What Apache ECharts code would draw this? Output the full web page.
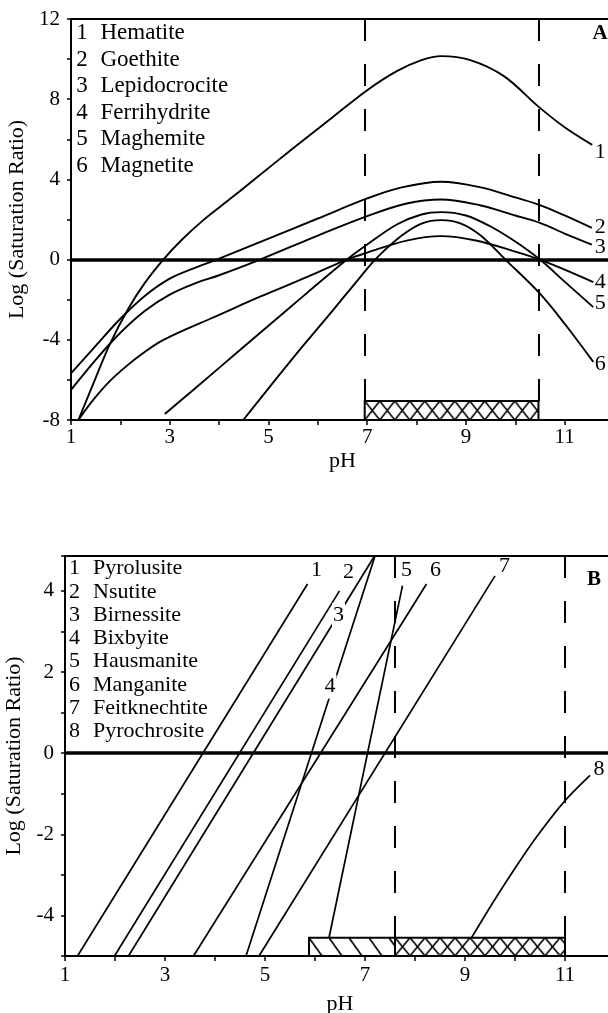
<!DOCTYPE html>
<html>
<head>
<meta charset="utf-8">
<script src="https://cdn.jsdelivr.net/npm/echarts@6/dist/echarts.min.js"></script>
<style>
  html, body { margin: 0; padding: 0; background: #fff; }
  #main { width: 608px; height: 1013px; }
</style>
</head>
<body>
<div id="main"></div>
<script>
// ---- panel A : iron phases ----
var ironNames = ['Hematite', 'Goethite', 'Lepidocrocite', 'Ferrihydrite', 'Maghemite', 'Magnetite'];
var hematite = [[1.15,-8],[1.5,-5.9],[1.79,-4.2],[2.16,-2.45],[2.5,-1.15],[2.87,0],[3.25,1.0],[3.68,1.97],
  [4.2,2.98],[4.7,3.97],[5.5,5.55],[6.3,7.1],[7,8.45],[7.6,9.4],[8.1,9.95],[8.5,10.15],[9.09,9.95],[9.77,9.15],
  [10.47,7.63],[11,6.6],[11.56,5.72]];
var goethite = [[1,-5.67],[1.5,-4.3],[2,-2.95],[2.5,-1.8],[3,-0.95],[3.5,-0.42],[3.95,0],[5,1.05],
  [6,2.05],[7,3.05],[7.7,3.6],[8.5,3.88],[9.3,3.6],[10,3.1],[10.5,2.72],[11,2.2],[11.55,1.58]];
var lepidocrocite = [[1,-6.5],[1.5,-5.0],[2,-3.65],[2.5,-2.55],[3,-1.75],[3.5,-1.2],[4,-0.78],[4.83,0],[6,1.2],
  [7,2.17],[7.8,2.8],[8.5,3.0],[9.3,2.7],[10,2.2],[10.5,1.83],[11,1.3],[11.55,0.75]];
var ferrihydrite = [[1.15,-8],[1.45,-7.0],[1.79,-6.05],[2.13,-5.3],[2.47,-4.65],[2.8,-4.1],[3.3,-3.5],
  [3.82,-2.95],[4.83,-1.85],[5.8,-0.85],[6.59,0],[7,0.35],[7.8,0.95],[8.5,1.17],[9.2,0.95],[10,0.4],
  [10.5,0],[11,-0.5],[11.58,-1.12]];
var maghemite = [[2.9,-7.7],[3.5,-6.45],[4.5,-4.35],[5.5,-2.25],[6.59,0],[7,0.75],[7.6,1.75],[8.1,2.25],
  [8.5,2.37],[9,2.2],[9.5,1.65],[10,0.9],[10.5,0],[11,-1.1],[11.58,-2.37]];
var magnetite = [[4.49,-8],[5.5,-4.9],[6.3,-2.55],[6.86,-0.87],[7.2,0.1],[7.7,1.2],[8.1,1.8],[8.5,1.97],
  [8.9,1.8],[9.3,1.2],[9.8,0],[10.5,-1.7],[11,-3.2],[11.58,-5.1]];
var ironCurves = [hematite, goethite, lepidocrocite, ferrihydrite, maghemite, magnetite];
var ironTags = [[11.72,5.35,'1'],[11.72,1.63,'2'],[11.72,0.63,'3'],[11.72,-1.12,'4'],[11.72,-2.2,'5'],[11.72,-5.2,'6']];
var ironDashed = [6.95, 10.47];
var ironBox = [6.95, 10.47, -8, -7.05];

// ---- panel B : manganese phases ----
var mnNames = ['Pyrolusite', 'Nsutite', 'Birnessite', 'Bixbyite', 'Hausmanite', 'Manganite', 'Feitknechtite', 'Pyrochrosite'];
var pyrolusite = [[1.25,-5],[5.85,4.17]];
var nsutite = [[1.99,-5],[6.49,4.0]];
var birnessite = [[2.27,-5],[7.19,4.86]];
var bixbyite = [[4.62,-5],[7.2,4.86]];
var hausmanite = [[6.28,-4.55],[7.75,4.13]];
var manganite = [[3.57,-5],[8.23,4.17]];
var feitknechtite = [[4.88,-5],[9.6,4.37]];
var pyrochrosite = [[9.13,-4.55],[9.6,-3.6],[10.1,-2.65],[10.5,-1.95],[10.98,-1.2],[11.5,-0.55]];
var mnCurves = [pyrolusite, nsutite, birnessite, bixbyite, hausmanite, manganite, feitknechtite, pyrochrosite];
var mnTags = [[6.03,4.52,'1'],[6.67,4.47,'2'],[6.47,3.41,'3'],[6.3,1.64,'4'],[7.83,4.52,'5'],[8.41,4.52,'6'],[9.79,4.6,'7'],[11.68,-0.4,'8']];
var mnInline = ['3', '4'];
var mnDashed = [7.6, 11];
var mnBoxHatch = [5.88, 7.6, -5, -4.55];
var mnBoxCross = [7.6, 11, -5, -4.55];

var FONT = '"Liberation Serif", serif';

function crossTile(w, h) {
    var c = document.createElement('canvas');
    c.width = w; c.height = h;
    var g = c.getContext('2d');
    g.fillStyle = '#fff'; g.fillRect(0, 0, w, h);
    g.strokeStyle = '#000'; g.lineWidth = 1.6;
    g.beginPath();
    g.moveTo(-1, -h / w); g.lineTo(w + 1, h + h / w);
    g.moveTo(w + 1, -h / w); g.lineTo(-1, h + h / w);
    g.stroke();
    return c;
}
function hatchTile(w, h) {
    var c = document.createElement('canvas');
    c.width = w; c.height = h;
    var g = c.getContext('2d');
    g.fillStyle = '#fff'; g.fillRect(0, 0, w, h);
    g.strokeStyle = '#000'; g.lineWidth = 1.6;
    g.beginPath();
    g.moveTo(-2, -2 * h / w); g.lineTo(w + 2, h + 2 * h / w);
    g.stroke();
    return c;
}

function xAxisOf(idx, nameGap, margin) {
    return {
        type: 'value', gridIndex: idx, min: 1, max: 12, interval: 1,
        name: 'pH', nameLocation: 'middle', nameGap: nameGap,
        nameTextStyle: { color: '#000', fontFamily: FONT, fontSize: 22 },
        axisLine: { onZero: false, lineStyle: { color: '#000', width: 2 } },
        axisTick: { inside: false, length: 5, lineStyle: { color: '#000', width: 1.5 } },
        axisLabel: { color: '#000', fontFamily: FONT, fontSize: 21, margin: margin,
            formatter: function (v) { return v % 2 === 1 ? String(v) : ''; } },
        splitLine: { show: false }
    };
}

function yAxisOf(idx, min, max, interval, every, nameGap) {
    return {
        type: 'value', gridIndex: idx, min: min, max: max, interval: interval,
        name: 'Log (Saturation Ratio)', nameLocation: 'middle', nameGap: nameGap,
        nameTextStyle: { color: '#000', fontFamily: FONT, fontSize: 22 },
        axisLine: { onZero: false, lineStyle: { color: '#000', width: 2 } },
        axisTick: { inside: false, length: 4, lineStyle: { color: '#000', width: 1.5 } },
        axisLabel: { color: '#000', fontFamily: FONT, fontSize: 21, margin: 11,
            formatter: function (v) { return (Number.isInteger(v) && v % every === 0) ? String(v) : ''; } },
        splitLine: { show: false }
    };
}

function boxArea(b, pattern) {
    return [{ coord: [b[0], b[3]], itemStyle: { color: pattern, borderColor: '#000', borderWidth: 2, opacity: 1 } },
            { coord: [b[1], b[2]] }];
}

function dashPair(x, yTop, yBottom) {
    return [{ coord: [x, yTop], lineStyle: { type: [22, 23], width: 2, color: '#000' } }, { coord: [x, yBottom] }];
}

function tagSeries(idx, tags, inline) {
    return {
        type: 'scatter', xAxisIndex: idx, yAxisIndex: idx, silent: true, z: 10,
        symbol: 'circle', symbolSize: 0, itemStyle: { color: '#000', opacity: 1 },
        data: tags.map(function (t) {
            var item = { value: t };
            if (inline && inline.indexOf(t[2]) >= 0) {
                item.label = { backgroundColor: '#fff', padding: [1, 1] };
            }
            return item;
        }),
        label: { show: true, position: 'inside', color: '#000', fontFamily: FONT, fontSize: 22,
            textBorderWidth: 0, opacity: 1, formatter: function (p) { return p.value[2]; } }
    };
}

function legendText(names, x0, y0, step, size) {
    var out = [];
    names.forEach(function (n, i) {
        out.push({ type: 'text', x: x0, y: y0 + i * step, silent: true,
            style: { text: String(i + 1), fill: '#000', font: size + 'px ' + FONT, textAlign: 'center', textVerticalAlign: 'middle' } });
        out.push({ type: 'text', x: x0 + 18.5, y: y0 + i * step, silent: true,
            style: { text: n, fill: '#000', font: size + 'px ' + FONT, textAlign: 'left', textVerticalAlign: 'middle' } });
    });
    return out;
}

function build(patterns) {
    var series = [];
    ironCurves.forEach(function (d, i) {
        series.push({ type: 'line', name: ironNames[i], xAxisIndex: 0, yAxisIndex: 0, data: d,
            smooth: 0.35, symbol: 'none', silent: true, lineStyle: { color: '#000', width: 1.9 } });
    });
    mnCurves.forEach(function (d, i) {
        series.push({ type: 'line', name: mnNames[i], xAxisIndex: 1, yAxisIndex: 1, data: d,
            smooth: 0.3, symbol: 'none', silent: true, lineStyle: { color: '#000', width: 1.7 } });
    });
    series[0].markLine = { silent: true, symbol: ['none', 'none'], label: { show: false },
        data: [{ yAxis: 0, lineStyle: { type: 'solid', width: 3.5, color: '#000' } }]
            .concat(ironDashed.map(function (x) { return dashPair(x, 12, ironBox[3]); })) };
    series[0].markArea = { silent: true, data: [boxArea(ironBox, patterns.a)] };
    series[6].markLine = { silent: true, symbol: ['none', 'none'], label: { show: false },
        data: [{ yAxis: 0, lineStyle: { type: 'solid', width: 3.5, color: '#000' } }]
            .concat(mnDashed.map(function (x) { return dashPair(x, 4.86, mnBoxCross[3]); })) };
    series[6].markArea = { silent: true, data: [boxArea(mnBoxHatch, patterns.b1), boxArea(mnBoxCross, patterns.b2)] };
    series.push(tagSeries(0, ironTags));
    series.push(tagSeries(1, mnTags, mnInline));

    var graphic = legendText(ironNames, 82, 33, 26.5, 23).concat(legendText(mnNames, 74.5, 568.5, 23.3, 22));
    graphic.push({ type: 'text', x: 600, y: 34, silent: true,
        style: { text: 'A', fill: '#000', font: 'bold 21px ' + FONT, textAlign: 'center', textVerticalAlign: 'middle' } });
    graphic.push({ type: 'text', x: 594, y: 580, silent: true,
        style: { text: 'B', fill: '#000', font: 'bold 21px ' + FONT, textAlign: 'center', textVerticalAlign: 'middle' } });

    return {
        animation: false,
        backgroundColor: '#fff',
        textStyle: { fontFamily: FONT },
        grid: [
            { left: 71, right: -6, top: 19, height: 401, containLabel: false, outerBoundsMode: 'none',
              show: true, borderColor: '#000', borderWidth: 2, backgroundColor: 'transparent' },
            { left: 65, right: -7, top: 556, bottom: 57, containLabel: false, outerBoundsMode: 'none',
              show: true, borderColor: '#000', borderWidth: 2, backgroundColor: 'transparent' }
        ],
        xAxis: [xAxisOf(0, 30, 7), xAxisOf(1, 37, 9)],
        yAxis: [yAxisOf(0, -8, 12, 2, 4, 36), yAxisOf(1, -5, 4.86, 1, 2, 30)],
        graphic: graphic,
        series: series
    };
}

var chart = echarts.init(document.getElementById('main'), null, { renderer: 'canvas' });
var pats = {
    a: { image: crossTile(15, 19), repeat: 'repeat' },
    b1: { image: hatchTile(20, 28), repeat: 'repeat' },
    b2: { image: crossTile(15, 18), repeat: 'repeat' }
};
chart.setOption(build(pats));
// line the hatch tiles up with the box corners
var pa = chart.convertToPixel({ gridIndex: 0 }, [ironBox[0], ironBox[3]]);
var pb1 = chart.convertToPixel({ gridIndex: 1 }, [mnBoxHatch[0], mnBoxHatch[3]]);
var pb2 = chart.convertToPixel({ gridIndex: 1 }, [mnBoxCross[0], mnBoxCross[3]]);
pats.a.x = pa[0]; pats.a.y = pa[1];
pats.b1.x = pb1[0]; pats.b1.y = pb1[1];
pats.b2.x = pb2[0]; pats.b2.y = pb2[1];
chart.setOption(build(pats), true);
</script>
</body>
</html>
